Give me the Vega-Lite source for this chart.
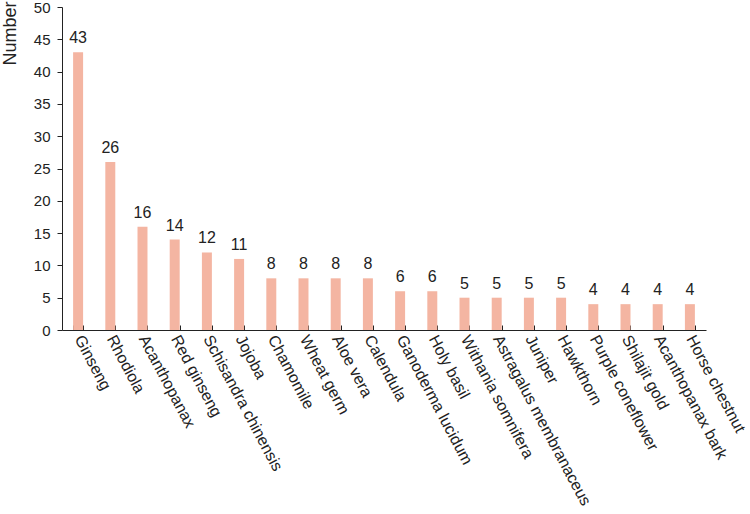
{
  "$schema": "https://vega.github.io/schema/vega-lite/v6.json",
  "autosize": "none",
  "width": 644,
  "height": 323,
  "padding": {"left": 62, "top": 7, "right": 44, "bottom": 184},
  "background": "white",
  "config": {
    "view": {"stroke": null},
    "font": "Liberation Sans",
    "axis": {"grid": false, "domainColor": "#222", "tickColor": "#222", "labelColor": "#222", "titleColor": "#222", "labelFont": "Liberation Sans", "titleFont": "Liberation Sans"}
  },
  "data": {
    "values": [
      {"herb": "Ginseng", "n": 43},
      {"herb": "Rhodiola", "n": 26},
      {"herb": "Acanthopanax", "n": 16},
      {"herb": "Red ginseng", "n": 14},
      {"herb": "Schisandra chinensis", "n": 12},
      {"herb": "Jojoba", "n": 11},
      {"herb": "Chamomile", "n": 8},
      {"herb": "Wheat germ", "n": 8},
      {"herb": "Aloe vera", "n": 8},
      {"herb": "Calendula", "n": 8},
      {"herb": "Ganoderma lucidum", "n": 6},
      {"herb": "Holy basil", "n": 6},
      {"herb": "Withania somnifera", "n": 5},
      {"herb": "Astragalus membranaceus", "n": 5},
      {"herb": "Juniper", "n": 5},
      {"herb": "Hawkthorn", "n": 5},
      {"herb": "Purple coneflower", "n": 4},
      {"herb": "Shilajit gold", "n": 4},
      {"herb": "Acanthopanax bark", "n": 4},
      {"herb": "Horse chestnut", "n": 4}
    ]
  },
  "encoding": {
    "x": {
      "field": "herb", "type": "nominal", "sort": null,
      "scale": {"paddingInner": 0.69, "paddingOuter": 0.345},
      "axis": {"title": null, "labelAngle": 62, "labelAlign": "left", "labelBaseline": "middle", "labelFontSize": 16, "labelPadding": 11, "labelLimit": 400, "labelOverlap": false, "tickBand": "extent", "tickSize": -5}
    },
    "y": {
      "field": "n", "type": "quantitative",
      "scale": {"domain": [0, 50]},
      "axis": {"values": [0, 5, 10, 15, 20, 25, 30, 35, 40, 45, 50], "tickSize": 5, "labelFontSize": 15, "labelPadding": 7, "title": "Number", "titleFontSize": 18, "titleFontWeight": "normal", "titleAngle": -90, "titleX": -47, "titleY": -6, "titleAlign": "right", "titleBaseline": "alphabetic"}
    }
  },
  "layer": [
    {"mark": {"type": "bar", "color": "#f4b5a2"}},
    {"mark": {"type": "text", "baseline": "alphabetic", "dy": -9, "fontSize": 16, "color": "#222", "font": "Liberation Sans"}, "encoding": {"text": {"field": "n"}}}
  ]
}
